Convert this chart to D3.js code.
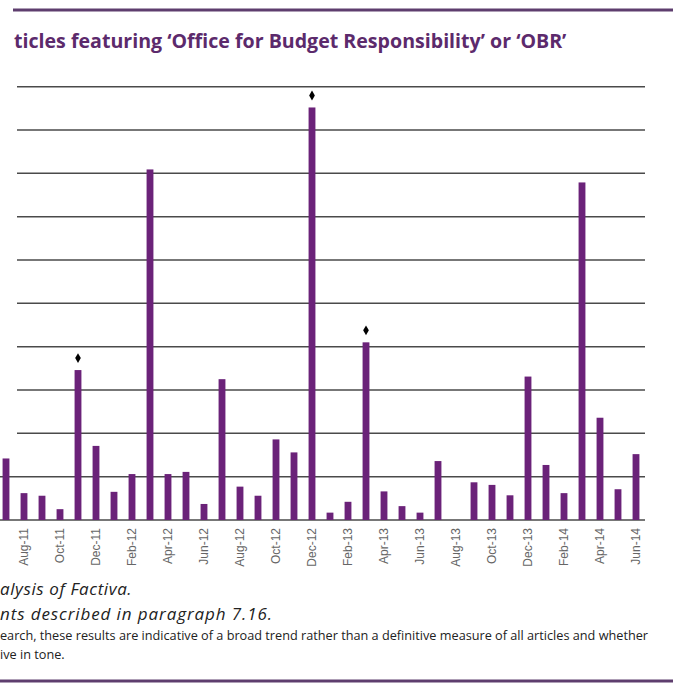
<!DOCTYPE html>
<html>
<head>
<meta charset="utf-8">
<script src="https://cdn.jsdelivr.net/npm/d3@7"></script>
<style>
  body { margin: 0; background: #fff; }
  svg { display: block; }
</style>
</head>
<body>
<script>
// months shown on the chart (Jul-11 to Jun-14)
var months = ["Jul-11","Aug-11","Sep-11","Oct-11","Nov-11","Dec-11",
  "Jan-12","Feb-12","Mar-12","Apr-12","May-12","Jun-12",
  "Jul-12","Aug-12","Sep-12","Oct-12","Nov-12","Dec-12",
  "Jan-13","Feb-13","Mar-13","Apr-13","May-13","Jun-13",
  "Jul-13","Aug-13","Sep-13","Oct-13","Nov-13","Dec-13",
  "Jan-14","Feb-14","Mar-14","Apr-14","May-14","Jun-14"];

// number of articles (y axis labels are cropped away)
var articles = [14.2, 6.2, 5.6, 2.5, 34.6, 17.1,
  6.5, 10.6, 80.9, 10.6, 11.1, 3.7,
  32.5, 7.7, 5.6, 18.6, 15.6, 95.2,
  1.7, 4.2, 41.0, 6.6, 3.2, 1.7,
  13.6, 0, 8.7, 8.1, 5.7, 33.1,
  12.7, 6.2, 77.9, 23.6, 7.1, 15.2];

// months flagged with a diamond (events described in paragraph 7.16)
var eventMonths = ["Nov-11", "Dec-12", "Mar-13"];

var yTicks = [0, 10, 20, 30, 40, 50, 60, 70, 80, 90, 100];

var w = 673;
var h = 685;

var svg = d3.select("body")
    .append("svg")
    .attr("width", w)
    .attr("height", h);

// frame rules
svg.append("line")
    .attr("x1", 13).attr("x2", w)
    .attr("y1", 10).attr("y2", 10)
    .attr("stroke", "#5e3e6e")
    .attr("stroke-width", 3);

svg.append("line")
    .attr("x1", 0).attr("x2", w)
    .attr("y1", 681).attr("y2", 681)
    .attr("stroke", "#5e3e6e")
    .attr("stroke-width", 3);

// title (cropped at the left in the original)
svg.append("text")
    .attr("x", 14)
    .attr("y", 48)
    .attr("font-family", "'Open Sans', sans-serif")
    .attr("font-size", "19.6px")
    .attr("font-weight", "bold")
    .attr("fill", "#5c2a6c")
    .text("ticles featuring \u2018Office for Budget Responsibility\u2019 or \u2018OBR\u2019");

// scales
var xScale = d3.scaleBand()
    .domain(months)
    .range([-3, 645])
    .padding(0);

var yScale = d3.scaleLinear()
    .domain([0, 100])
    .range([520, 86.67]);

// gridlines
svg.selectAll("line.grid")
    .data(yTicks)
    .enter()
    .append("line")
    .attr("class", "grid")
    .attr("x1", function(d) { return d <= 10 ? 0 : 17; })
    .attr("x2", 645)
    .attr("y1", function(d) { return yScale(d); })
    .attr("y2", function(d) { return yScale(d); })
    .attr("stroke", "#4a4a4a")
    .attr("stroke-width", 1.5);

// bars
var barW = xScale.bandwidth() * 0.38;
svg.selectAll("rect.bar")
    .data(months)
    .enter()
    .append("rect")
    .attr("class", "bar")
    .attr("x", function(d) { return xScale(d) + xScale.bandwidth() / 2 - barW / 2; })
    .attr("y", function(d, i) { return yScale(articles[i]); })
    .attr("width", barW)
    .attr("height", function(d, i) { return yScale(0) - yScale(articles[i]); })
    .attr("fill", "#6b2279");

// diamonds above flagged bars
svg.selectAll("path.event")
    .data(eventMonths)
    .enter()
    .append("path")
    .attr("class", "event")
    .attr("d", d3.symbol().type(d3.symbolDiamond).size(28))
    .attr("transform", function(d) {
        var v = articles[months.indexOf(d)];
        return "translate(" + (xScale(d) + xScale.bandwidth() / 2) + "," + (yScale(v) - 12) + ")";
    })
    .attr("fill", "#000");

// x axis, every second month labelled
var xAxis = d3.axisBottom(xScale)
    .tickValues(months.filter(function(d, i) { return i % 2 === 1; }))
    .tickSize(0);

var gx = svg.append("g")
    .attr("transform", "translate(0,520)")
    .call(xAxis);
gx.select(".domain").remove();
gx.selectAll("text")
    .attr("font-family", "'Liberation Sans', Arial, sans-serif")
    .attr("font-size", "12px")
    .attr("fill", "#666")
    .attr("text-anchor", "end")
    .attr("transform", "rotate(-90)")
    .attr("x", -8)
    .attr("y", 0)
    .attr("dy", "0.35em");

// footnotes (cropped at the left in the original)
var notes = svg.append("g")
    .attr("font-family", "'Open Sans', sans-serif")
    .attr("fill", "#222");

notes.append("text")
    .attr("x", 0).attr("y", 595)
    .attr("font-size", "17px")
    .attr("letter-spacing", "0.6px")
    .attr("font-style", "italic")
    .text("alysis of Factiva.");

notes.append("text")
    .attr("x", 0).attr("y", 620)
    .attr("font-size", "17px")
    .attr("letter-spacing", "0.9px")
    .attr("font-style", "italic")
    .text("nts described in paragraph 7.16.");

notes.append("text")
    .attr("x", 0).attr("y", 640)
    .attr("font-size", "12.7px")
    .text("earch, these results are indicative of a broad trend rather than a definitive measure of all articles and whether");

notes.append("text")
    .attr("x", 0).attr("y", 659)
    .attr("font-size", "12.7px")
    .text("ive in tone.");
</script>
</body>
</html>
